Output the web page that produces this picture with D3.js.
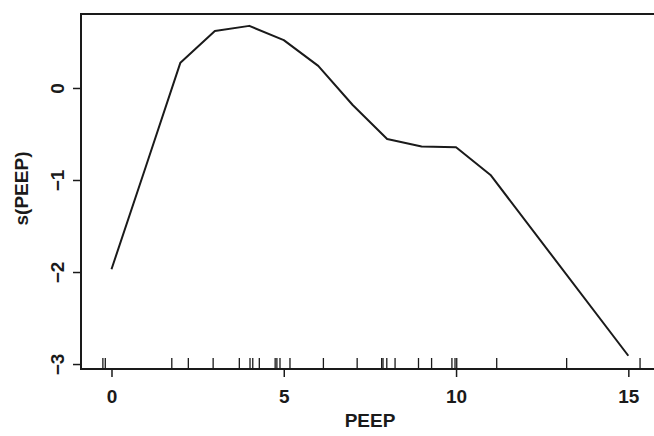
<!DOCTYPE html>
<html lang="en">
<head>
<meta charset="UTF-8">
<title>s(PEEP)</title>
<style>
    body { margin: 0; background: #fff; }
    text { font-family: "Liberation Sans", Arial, sans-serif; font-weight: bold; fill: #1a1a1a; }
</style>
<script src="https://d3js.org/d3.v7.min.js"></script>
</head>
<body>
<div id="chart"></div>
<script>
    // smooth term
    const peep = [0, 1, 2, 3, 4, 5, 6, 7, 8, 9, 10, 11, 15];
    const sPeep = [-1.97, -0.85, 0.275, 0.62, 0.675, 0.52, 0.24, -0.185, -0.555, -0.635, -0.645, -0.945, -2.91];
    // rug of observed (jittered) PEEP values
    const rug = [-0.25, -0.18, 1.75, 2.23, 2.95, 3.71, 4.02, 4.1, 4.29, 4.75, 4.8, 4.89, 5.18,
                 6.15, 7.13, 7.84, 7.88, 7.99, 8.23, 8.91, 9.29, 9.88, 9.97, 10.02, 11.18, 13.21, 15.34];
    const xTicks = [0, 5, 10, 15];
    const yTicks = [0, -1, -2, -3];

    const W = 654, H = 436;
    const margin = { top: 14, right: -5, bottom: 67, left: 81 };
    const iw = W - margin.left - margin.right;
    const ih = H - margin.top - margin.bottom;

    const svg = d3.select("#chart").append("svg")
        .attr("width", W).attr("height", H);
    const g = svg.append("g").attr("transform", `translate(${margin.left},${margin.top})`);

    const x = d3.scaleLinear().domain([-0.885, 15.89]).range([0, iw]);
    const y = d3.scaleLinear().domain([-3.054, 0.804]).range([ih, 0]);

    // box
    g.append("rect")
        .attr("x", 0).attr("y", 0).attr("width", iw).attr("height", ih)
        .attr("fill", "none").attr("stroke", "#1a1a1a").attr("stroke-width", 2);

    // x axis
    const xa = g.append("g").attr("transform", `translate(0,${ih})`)
        .call(d3.axisBottom(x).tickValues(xTicks).tickSize(8).tickPadding(13));
    xa.select(".domain").remove();
    xa.selectAll("line").attr("stroke", "#1a1a1a").attr("stroke-width", 1.5);
    xa.selectAll("text").style("font-size", "19px").style("font-family", null).attr("fill", null);

    // y axis, labels rotated like R
    const ya = g.append("g")
        .call(d3.axisLeft(y).tickValues(yTicks).tickSize(8).tickFormat(d3.format("d")));
    ya.select(".domain").remove();
    ya.selectAll("line").attr("stroke", "#1a1a1a").attr("stroke-width", 1.5);
    ya.selectAll("text")
        .attr("x", null).attr("dy", null)
        .attr("transform", "translate(-24,0) rotate(-90)")
        .attr("text-anchor", "middle")
        .attr("dominant-baseline", "central")
        .style("font-size", "19px").style("font-family", null).attr("fill", null);

    // axis titles
    svg.append("text")
        .attr("x", 370).attr("y", 427)
        .attr("text-anchor", "middle")
        .style("font-size", "19px")
        .text("PEEP");
    svg.append("text")
        .attr("transform", `translate(21,${margin.top + ih / 2 - 3}) rotate(-90)`)
        .attr("text-anchor", "middle")
        .attr("dominant-baseline", "central")
        .style("font-size", "19px")
        .text("s(PEEP)");

    // rug
    g.selectAll(".rug").data(rug).enter().append("line")
        .attr("class", "rug")
        .attr("x1", d => x(d)).attr("x2", d => x(d))
        .attr("y1", ih).attr("y2", ih - 11)
        .attr("stroke", "#1a1a1a").attr("stroke-width", 1.3);

    // fitted curve
    const pts = peep.map((p, i) => ({ p: p, s: sPeep[i] }));
    g.append("path")
        .datum(pts)
        .attr("fill", "none")
        .attr("stroke", "#1a1a1a")
        .attr("stroke-width", 2)
        .attr("stroke-linejoin", "round")
        .attr("d", d3.line().x(d => x(d.p)).y(d => y(d.s)));
</script>
</body>
</html>
